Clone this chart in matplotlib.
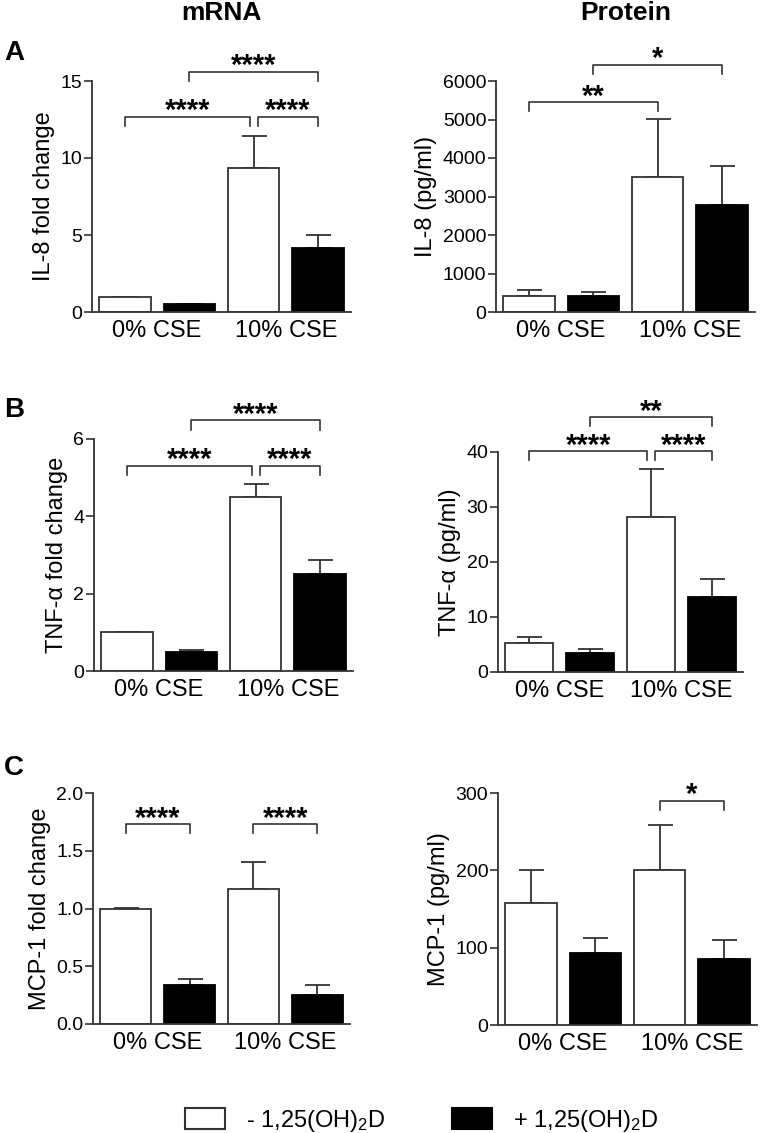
import numpy as np
import matplotlib
matplotlib.use('Agg')
import matplotlib.pyplot as plt
from matplotlib.patches import Patch

plt.rcParams['font.family'] = ['Liberation Sans', 'DejaVu Sans']
plt.rcParams['mathtext.default'] = 'regular'

# data
groups = ['0% CSE', '10% CSE']

il8_mrna = [1.0, 0.5, 9.35, 4.15]
il8_mrna_err = [0.0, 0.02, 2.05, 0.85]
il8_prot = [420, 410, 3500, 2780]
il8_prot_err = [160, 100, 1520, 1020]

tnf_mrna = [1.0, 0.5, 4.51, 2.51]
tnf_mrna_err = [0.0, 0.04, 0.32, 0.36]
tnf_prot = [5.3, 3.5, 28.1, 13.7]
tnf_prot_err = [1.1, 0.7, 8.8, 3.3]

mcp_mrna = [1.0, 0.34, 1.17, 0.255]
mcp_mrna_err = [0.006, 0.05, 0.23, 0.085]
mcp_prot = [158, 93, 201, 85]
mcp_prot_err = [43, 20, 57, 25]

# significance brackets: (bar i, bar j, height, label)
sig_il8_mrna = [(0, 2, 12.66, '****'), (2, 3, 12.66, '****'), (1, 3, 15.6, '****')]
sig_il8_prot = [(0, 2, 5450, '**'), (1, 3, 6420, '*')]
sig_tnf_mrna = [(0, 2, 5.31, '****'), (2, 3, 5.31, '****'), (1, 3, 6.48, '****')]
sig_tnf_prot = [(0, 2, 40.1, '****'), (2, 3, 40.1, '****'), (1, 3, 46.3, '**')]
sig_mcp_mrna = [(0, 1, 1.73, '****'), (2, 3, 1.73, '****')]
sig_mcp_prot = [(2, 3, 289.7, '*')]

W, H = 769, 1133
fig = plt.figure(figsize=(W / 100, H / 100), dpi=100)

edge = '#333333'


def make_ax(x0, y0, x1, y1):
    return fig.add_axes([x0 / W, 1 - y1 / H, (x1 - x0) / W, (y1 - y0) / H])


def panel(ax, vals, errs, ymax, yticks, ylabel, sig, ticklabels=None):
    x = np.arange(4)
    colors = ['white', 'black', 'white', 'black']
    ax.errorbar(x, vals, yerr=[np.zeros(4), errs], fmt='none', ecolor=edge,
                elinewidth=1.3, capsize=9, capthick=1.3, zorder=1)
    ax.bar(x, vals, width=0.8, color=colors, edgecolor=[edge, 'black', edge, 'black'],
           linewidth=1.3, zorder=2)
    ax.set_xlim(-0.51, 3.51)
    ax.set_ylim(0, ymax)
    ax.set_yticks(yticks)
    if ticklabels is not None:
        ax.set_yticklabels(ticklabels)
    ax.set_xticks([0.5, 2.5])
    ax.set_xticklabels(groups, fontsize=17)
    ax.tick_params(axis='x', length=0, pad=6)
    ax.tick_params(axis='y', length=6, width=1.2, color=edge, labelsize=14, pad=1)
    for s in ['top', 'right']:
        ax.spines[s].set_visible(False)
    for s in ['left', 'bottom']:
        ax.spines[s].set_color(edge)
        ax.spines[s].set_linewidth(1.3)
    ax.set_ylabel(ylabel, fontsize=17)

    drop = 0.04 * ymax
    levels = {}
    for i, j, yv, lab in sig:
        levels.setdefault(yv, []).append((i, j))
    for i, j, yv, lab in sig:
        xi, xj = float(i), float(j)
        for a, b in levels[yv]:
            if (a, b) != (i, j):
                if b == i:
                    xi += 0.06
                if a == j:
                    xj -= 0.06
        ax.plot([xi, xi, xj, xj], [yv - drop, yv, yv, yv - drop], color=edge,
                lw=1.2, clip_on=False)
        ax.annotate(lab, ((xi + xj) / 2, yv), xytext=(0, -6), textcoords='offset points',
                    ha='center', va='bottom', fontsize=21, fontweight='bold',
                    annotation_clip=False)


ax = make_ax(92, 81, 351, 312)
panel(ax, il8_mrna, il8_mrna_err, 15, [0, 5, 10, 15], 'IL-8 fold change', sig_il8_mrna)

ax = make_ax(496, 81, 755, 312)
panel(ax, il8_prot, il8_prot_err, 6000, [0, 1000, 2000, 3000, 4000, 5000, 6000],
      'IL-8 (pg/ml)', sig_il8_prot)

ax = make_ax(94, 439, 353, 671)
panel(ax, tnf_mrna, tnf_mrna_err, 6, [0, 2, 4, 6], 'TNF-α fold change', sig_tnf_mrna)

ax = make_ax(498, 452, 743, 672)
panel(ax, tnf_prot, tnf_prot_err, 40, [0, 10, 20, 30, 40], 'TNF-α (pg/ml)', sig_tnf_prot)

ax = make_ax(93, 793, 350, 1024)
panel(ax, mcp_mrna, mcp_mrna_err, 2.0, [0, 0.5, 1.0, 1.5, 2.0], 'MCP-1 fold change',
      sig_mcp_mrna, ['0.0', '0.5', '1.0', '1.5', '2.0'])

ax = make_ax(498, 793, 757, 1025)
panel(ax, mcp_prot, mcp_prot_err, 300, [0, 100, 200, 300], 'MCP-1 (pg/ml)', sig_mcp_prot)

# column titles
fig.text(221 / W, 1 - 13 / H, 'mRNA', fontsize=19, fontweight='bold', ha='center', va='center')
fig.text(626 / W, 1 - 13 / H, 'Protein', fontsize=19, fontweight='bold', ha='center', va='center')

for lab, yc in [('A', 53), ('B', 410), ('C', 768)]:
    fig.text(4 / W, 1 - yc / H, lab, fontsize=20, fontweight='bold', va='center', ha='left')

handles = [Patch(facecolor='white', edgecolor=edge, linewidth=1.5),
           Patch(facecolor='black', edgecolor='black', linewidth=1.5)]
fig.legend(handles, ['- 1,25(OH)$_2$D', '+ 1,25(OH)$_2$D'], loc='center',
           bbox_to_anchor=(422 / W, 1 - 1121 / H), ncol=2, frameon=False,
           fontsize=17, handlelength=1.7, handleheight=1.0, handletextpad=0.9,
           columnspacing=2.8)

fig.savefig('out.png', dpi=100, facecolor='white')
